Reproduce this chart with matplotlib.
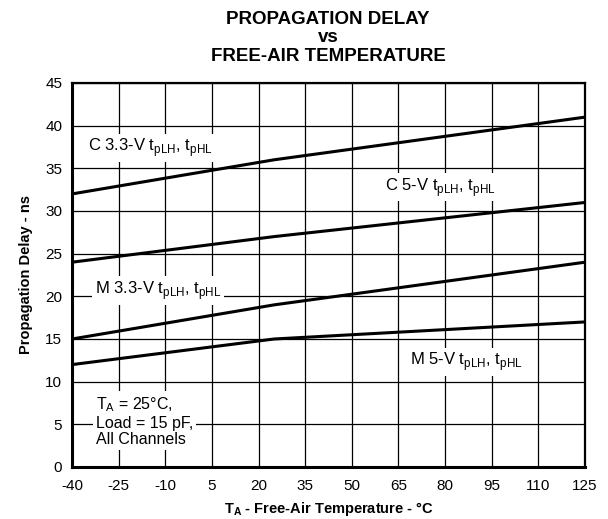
import matplotlib
matplotlib.use("Agg")
from matplotlib import pyplot as plt

plt.rcParams['font.family'] = ['Liberation Sans', 'DejaVu Sans']
plt.rcParams['axes.unicode_minus'] = False

# DATOS
temps = [-40, 25, 125]
c33 = [32, 36, 41]
c5 = [24, 27, 31]
m33 = [15, 19, 24]
m5 = [12, 15, 17]
xticks = [-40, -25, -10, 5, 20, 35, 50, 65, 80, 95, 110, 125]
yticks = [0, 5, 10, 15, 20, 25, 30, 35, 40, 45]

fig = plt.figure(figsize=(6.08, 5.19), dpi=100)
ax = fig.add_axes([72 / 608, 52 / 519, 513 / 608, 384 / 519])

for serie in (c33, c5, m33, m5):
    ax.plot(temps, serie, color='black', lw=2.2, zorder=3)

ax.set_xlim(-40, 125)
ax.set_ylim(0, 45)
ax.set_xticks(xticks)
ax.set_yticks(yticks)
ax.tick_params(length=0, labelsize=11)
ax.tick_params(axis='x', pad=9)
ax.tick_params(axis='y', pad=7)
ax.grid(True, color='black', lw=0.9)
for lado in ax.spines.values():
    lado.set_linewidth(1.6)
ax.spines['left'].set_linewidth(2.2)
ax.spines['bottom'].set_linewidth(2.2)

caja = dict(facecolor='white', edgecolor='none', pad=2)
ax.text(-34.9, 37.4, r'C 3.3-V t$_{\mathregular{pLH}}$, t$_{\mathregular{pHL}}$',
        fontsize=12, va='center', bbox=caja, zorder=4)
ax.text(60.7, 32.8, r'C 5-V t$_{\mathregular{pLH}}$, t$_{\mathregular{pHL}}$',
        fontsize=12, va='center', bbox=caja, zorder=4)
ax.text(-32.6, 20.7, r'M 3.3-V t$_{\mathregular{pLH}}$, t$_{\mathregular{pHL}}$',
        fontsize=12, va='center', bbox=caja, zorder=4)
ax.text(68.7, 12.3, r'M 5-V t$_{\mathregular{pLH}}$, t$_{\mathregular{pHL}}$',
        fontsize=12, va='center', bbox=caja, zorder=4)
ax.text(-32.3, 2.3, 'T$_{\\mathregular{A}}$ = 25°C,\nLoad = 15 pF,\nAll Channels',
        fontsize=11.5, va='bottom', linespacing=1.13, bbox=caja, zorder=4)

ax.set_xlabel(r'T$_{\mathregular{A}}$ - Free-Air Temperature - °C',
              fontsize=10.5, fontweight='bold', labelpad=5)
ax.set_ylabel('Propagation Delay - ns', fontsize=10.5, fontweight='bold', labelpad=9)

fig.text(328 / 608, 1 - 38 / 519, 'PROPAGATION DELAY\nvs\nFREE-AIR TEMPERATURE',
         ha='center', va='center', fontsize=13.5, fontweight='bold', linespacing=1.15)

plt.savefig("out.png", dpi=100)
